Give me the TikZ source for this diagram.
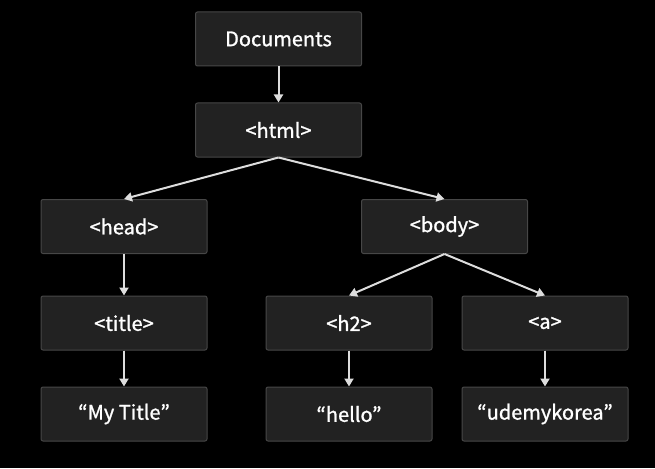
\documentclass[tikz,border=0pt]{standalone}
\usepackage{fontspec}
\setmainfont{Noto Sans CJK KR}[FakeBold=1.2]
\usetikzlibrary{arrows.meta}
\definecolor{boxfill}{HTML}{222222}
\definecolor{boxline}{HTML}{474747}
\definecolor{linkgray}{HTML}{DDDDDD}
\begin{document}
\begin{tikzpicture}[x=1pt, y=-1pt, >={Triangle[length=8pt,width=9pt]}, line join=round,
    elem/.style={draw=boxline, fill=boxfill, line width=1pt, rounded corners=2pt,
      minimum width=166pt, minimum height=54pt, inner sep=0pt, text=white,
      font=\fontsize{20}{23}\selectfont},
    link/.style={->, draw=linkgray, fill=linkgray, line width=2pt}]
    \fill[black] (0,0) rectangle (655,468);
    % nodes
    \node[elem] (doc) at (278.5,39) {Documents};
    \node[elem] (html) at (278.5,130) {<html>};
    \node[elem] (head) at (124,226.5) {<head>};
    \node[elem] (body) at (444.5,226.5) {<body>};
    \node[elem] (title) at (124,323) {<title>};
    \node[elem] (htwo) at (349,323) {<h2>};
    \node[elem] (anchor) at (545,323) {<a>};
    \node[elem] (mytitle) at (124,414) {“My Title”};
    \node[elem] (hello) at (349,414) {“hello”};
    \node[elem] (udemy) at (545,414) {“udemykorea”};
    % links
    \draw[link] (doc) -- (html);
    \draw[link] (html.south) -- (head.north);
    \draw[link] (html.south) -- (body.north);
    \draw[link] (head) -- (title);
    \draw[link] (title) -- (mytitle);
    \draw[link] (body.south) -- (htwo.north);
    \draw[link] (body.south) -- (anchor.north);
    \draw[link] (htwo) -- (hello);
    \draw[link] (anchor) -- (udemy);
\end{tikzpicture}
\end{document}
